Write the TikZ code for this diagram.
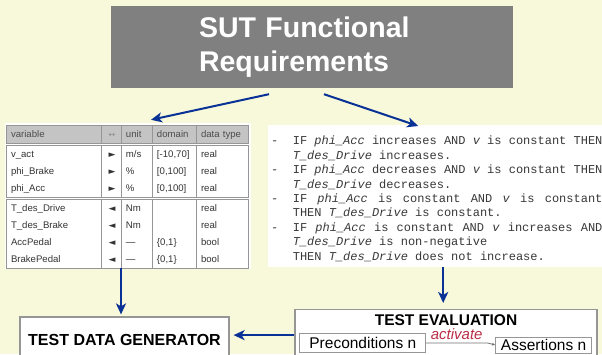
\documentclass[tikz,border=0pt]{standalone}
\usepackage{fontspec}
\setmainfont{Liberation Sans}
\setmonofont{Liberation Mono}
\newfontfamily\symfont{DejaVu Sans}
\usepackage{tikz}
\usetikzlibrary{arrows.meta,matrix,calc,positioning}
\definecolor{cream}{RGB}{248,248,218}
\definecolor{sutgray}{RGB}{128,128,128}
\definecolor{flowblue}{RGB}{10,50,150}
\definecolor{actred}{RGB}{185,45,70}
\definecolor{headgray}{RGB}{196,196,196}
\definecolor{framegray}{RGB}{150,150,150}
\newcommand\sigin{{\symfont\fontsize{9}{9}\selectfont ►}}
\newcommand\sigout{{\symfont\fontsize{9}{9}\selectfont ◄}}
\newcommand\sigboth{{\symfont\fontsize{8}{8}\selectfont\color{black!45}↔}}
\newcommand\rv[1]{{\itshape #1}}
\newcommand\jline[1]{\hbox to 43\fontcharwd\font`x{#1}}

\begin{document}
\begin{tikzpicture}
  [x=1pt, y=-1pt,
  sutbox/.style={rectangle, fill=sutgray, text=white, minimum width=402pt, minimum height=82pt, text width=226pt, align=left, inner sep=0pt, font=\bfseries\fontsize{28.5}{34}\selectfont},
  cell/.style={inner xsep=4pt, inner ysep=0pt, minimum height=17pt, text height=7pt, text depth=2pt, align=left, font=\fontsize{9.6}{11}\selectfont, text=black!80},
  tabframe/.style={draw=framegray, line width=.9pt},
  backdrop/.style={rectangle, fill=white, anchor=north west, inner sep=0pt},
  rulestext/.style={align=left, inner sep=0pt, text=black!78, font=\ttfamily\fontsize{12}{14.4}\selectfont},
  outbox/.style={rectangle, draw=framegray, line width=1.2pt, fill=white, inner sep=0pt, font=\bfseries\fontsize{16}{18}\selectfont},
  partbox/.style={rectangle, draw=framegray, line width=.8pt, fill=white, inner sep=1pt, font=\fontsize{15.5}{17}\selectfont}]
  \useasboundingbox (0,0) rectangle (602,354);
  \fill[cream] (0,0) rectangle (602,354);

  \node (sut) [sutbox] at (312,47) {SUT Functional\\Requirements};

% Interface table
  \node (tab-back) [backdrop, minimum width=246pt, minimum height=146pt] at (5,123) {};
  \matrix (vars) [matrix of nodes, inner sep=0pt, column sep=0pt, row sep=0pt, nodes={cell},
    column 1/.style={nodes={text width=87pt}},
    column 2/.style={nodes={text width=12pt, align=center}},
    column 3/.style={nodes={text width=23pt}},
    column 4/.style={nodes={text width=36pt}},
    column 5/.style={nodes={text width=43pt}},
    row 1/.style={nodes={fill=headgray, text=black!70}}] at (127.5,197) {
    variable & \sigboth & unit & domain & data type \\[3pt]
    v\_act & \sigin & m/s & {[-10,70]} & real \\
    phi\_Brake & \sigin & \% & {[0,100]} & real \\
    phi\_Acc & \sigin & \% & {[0,100]} & real \\[3pt]
    T\_des\_Drive & \sigout & Nm & & real \\
    T\_des\_Brake & \sigout & Nm & & real \\
    AccPedal & \sigout & --- & \{0,1\} & bool \\
    BrakePedal & \sigout & --- & \{0,1\} & bool \\
  };
  \draw[tabframe] (vars-1-1.north west) rectangle (vars-1-5.south east);
  \draw[tabframe] (vars-2-1.north west) rectangle (vars-4-5.south east);
  \draw[tabframe] (vars-5-1.north west) rectangle (vars-8-5.south east);
  \foreach \c in {2,...,5} {
    \draw[tabframe] (vars-1-\c.north west) -- (vars-1-\c.south west);
    \draw[tabframe] (vars-1-\c.west |- vars-2-1.north) -- (vars-1-\c.west |- vars-4-1.south);
    \draw[tabframe] (vars-1-\c.west |- vars-5-1.north) -- (vars-1-\c.west |- vars-8-1.south);
  }

% Requirement rules
  \node (rules) [backdrop, minimum width=340pt, minimum height=142pt] at (268,125) {};
  \node (rules-txt) [rulestext, anchor=base west] at (271,260) {%
    -~~IF \rv{phi\_Acc} increases AND \rv{v} is constant THEN\\
    \phantom{-}~~\rv{T\_des\_Drive} increases.\\
    -~~IF \rv{phi\_Acc} decreases AND \rv{v} is constant THEN\\
    \phantom{-}~~\rv{T\_des\_Drive} decreases.\\
    -~~\jline{IF\hfill\rv{phi\_Acc}\hfill is\hfill constant\hfill AND\hfill\rv{v}\hfill is\hfill constant}\\
    \phantom{-}~~THEN \rv{T\_des\_Drive} is constant.\\
    -~~\jline{IF\hfill\rv{phi\_Acc}\hfill is\hfill constant\hfill AND\hfill\rv{v}\hfill increases\hfill AND}\\
    \phantom{-}~~\rv{T\_des\_Drive} is non-negative\\
    \phantom{-}~~THEN \rv{T\_des\_Drive} does not increase.};

% Test blocks
  \node (gen) [outbox, minimum width=209pt, minimum height=45pt] at (124.5,339.5) {TEST DATA GENERATOR};
  \node (eval) [outbox, minimum width=302pt, minimum height=53pt, anchor=north] at (446,309) {};
  \node (eval-title) [below=5pt of eval.north, inner sep=0pt, font=\bfseries\fontsize{15.5}{17}\selectfont] {TEST EVALUATION};
  \node (prec) [partbox, below right=24pt and 5pt of eval.north west, anchor=north west, minimum width=126pt, minimum height=19pt] {Preconditions n};
  \node (assert) [partbox, right=69pt of prec, yshift=-2pt, minimum width=96pt, minimum height=16pt] {Assertions n};
  \draw[draw=black!55, line width=.8pt, -{Latex[length=3pt,width=3pt]}] (prec.east) --node[above=2pt, inner sep=.5pt, text=actred, font=\itshape\fontsize{15}{17}\selectfont]{activate} ([xshift=-8pt]assert.west |- prec.east) -- (assert.west);

% Flow
  \draw[flowblue, line width=2pt, -{Stealth[length=11pt,width=10pt,inset=3pt]}] ([xshift=-43pt,yshift=-6pt]sut.south) -- ([xshift=23.5pt,yshift=6pt]vars.north);
  \draw[flowblue, line width=2pt, -{Stealth[length=11pt,width=10pt,inset=3pt]}] ([xshift=12pt,yshift=-6pt]sut.south) -- ([xshift=-20pt,yshift=-1pt]rules.north);
  \draw[flowblue, line width=2pt, -{Stealth[length=11pt,width=10pt,inset=3pt]}] ([xshift=-3.5pt]gen.north |- vars.south) -- ([xshift=-3.5pt,yshift=2pt]gen.north);
  \draw[flowblue, line width=2pt, -{Stealth[length=11pt,width=10pt,inset=3pt]}] ([xshift=5pt]rules.south) -- ([xshift=5pt,yshift=6pt]rules.south |- eval.north);
  \draw[flowblue, line width=2pt, -{Stealth[length=11pt,width=10pt,inset=3pt]}] ([yshift=1pt]eval.west) -- ([xshift=4pt,yshift=1pt]eval.west -| gen.east);
\end{tikzpicture}
\end{document}
